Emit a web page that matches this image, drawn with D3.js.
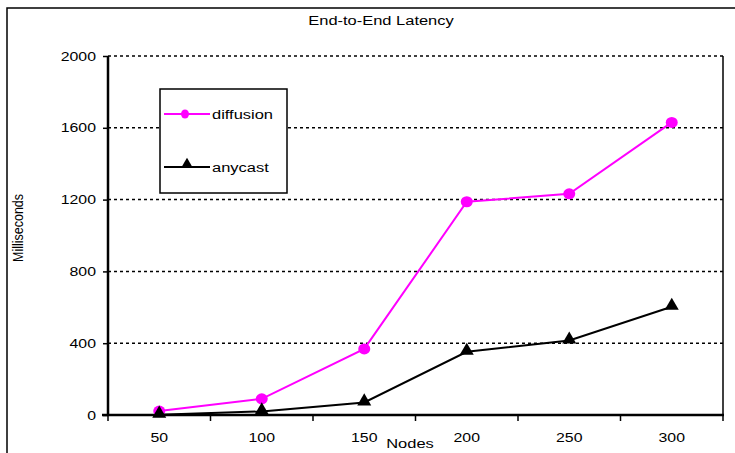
<!DOCTYPE html>
<html>
<head>
<meta charset="utf-8">
<script src="https://cdn.jsdelivr.net/npm/d3@7"></script>
<style>
  html, body { margin: 0; padding: 0; background: #fff; }
  svg { display: block; font-family: "Liberation Sans", Arial, sans-serif; }
</style>
</head>
<body>
<svg id="chart" width="735" height="453"></svg>
<script>
// Latency measurements per network size
const nodes = ["50", "100", "150", "200", "250", "300"];
const diffusion = [22, 90, 368, 1188, 1232, 1630];
const anycast = [2, 20, 70, 352, 415, 603];
const yTicks = [0, 400, 800, 1200, 1600, 2000];

const svg = d3.select("#chart");
const margin = { left: 108, right: 723, top: 56, bottom: 415 };
const SX = 1.22; // wide lettering

const x = d3.scaleBand().domain(nodes).range([margin.left, margin.right]);
const y = d3.scaleLinear().domain([0, 2000]).range([margin.bottom, margin.top]);

// Text helper: places a label and widens its glyphs horizontally
function label(px, py, str, size, anchor = "middle", rot = 0) {
  return svg.append("text")
    .attr("transform", `translate(${px},${py}) scale(${SX},1)` + (rot ? ` rotate(${rot})` : ""))
    .attr("text-anchor", anchor)
    .attr("font-size", size)
    .text(str);
}

// Outer chart frame (continues past the right and bottom edges)
svg.append("path")
  .attr("d", "M7,460 L7,8 L740,8")
  .attr("fill", "none").attr("stroke", "#000").attr("stroke-width", 1.5);

// Title
label(381, 25, "End-to-End Latency", 13.5);

// Dashed gridlines
svg.append("g").selectAll("line")
  .data(yTicks.filter(d => d > 0))
  .join("line")
  .attr("x1", margin.left).attr("x2", margin.right)
  .attr("y1", d => y(d)).attr("y2", d => y(d))
  .attr("stroke", "#000").attr("stroke-width", 1.5)
  .attr("stroke-dasharray", "3,3");

// Right border of plot area
svg.append("line")
  .attr("x1", margin.right).attr("x2", margin.right)
  .attr("y1", margin.top).attr("y2", margin.bottom)
  .attr("stroke", "#000").attr("stroke-width", 1.5);

// Y axis
const yAxis = svg.append("g")
  .attr("transform", `translate(${margin.left},0)`)
  .call(d3.axisLeft(y).tickValues(yTicks).tickFormat(d3.format("d")).tickSize(5).tickPadding(0));
yAxis.select(".domain").attr("stroke-width", 2.5).attr("d", `M0,${margin.top}V${margin.bottom}`);
yAxis.selectAll(".tick line").attr("stroke-width", 1.5);
yAxis.selectAll(".tick text")
  .attr("x", null)
  .attr("transform", `translate(-12,0) scale(${SX},1)`)
  .attr("font-size", 13).attr("fill", "#000")
  .attr("font-family", "Liberation Sans, Arial, sans-serif");

// X axis: ticks sit on category boundaries
const xAxis = svg.append("g")
  .attr("transform", `translate(0,${margin.bottom})`);
xAxis.append("line")
  .attr("x1", margin.left - 6).attr("x2", margin.right + 1)
  .attr("stroke", "#000").attr("stroke-width", 2.5);
const bounds = nodes.map(d => x(d)).concat([margin.right]);
xAxis.selectAll("line.tk").data(bounds).join("line")
  .attr("class", "tk")
  .attr("x1", d => d).attr("x2", d => d)
  .attr("y1", 0).attr("y2", 6)
  .attr("stroke", "#000").attr("stroke-width", 1.5);
xAxis.selectAll("text").data(nodes).join("text")
  .attr("transform", d => `translate(${x(d) + x.bandwidth() / 2},27) scale(${SX},1)`)
  .attr("text-anchor", "middle")
  .attr("font-size", 13)
  .text(d => d);

// Axis titles
label(410, 448, "Nodes", 13.5);
label(23, 228, "Milliseconds", 12.5, "middle", -90);

const cx = d => x(d) + x.bandwidth() / 2;
const line = d3.line().x((d, i) => cx(nodes[i])).y(d => y(d));

// Diffusion series
svg.append("path").datum(diffusion)
  .attr("d", line).attr("fill", "none")
  .attr("stroke", "#ff00ff").attr("stroke-width", 2);
svg.append("g").selectAll("ellipse").data(diffusion).join("ellipse")
  .attr("cx", (d, i) => cx(nodes[i])).attr("cy", d => y(d))
  .attr("rx", 6).attr("ry", 5.5)
  .attr("fill", "#ff00ff");

// Anycast series
const tri = d3.symbol().type(d3.symbolTriangle).size(85);
svg.append("path").datum(anycast)
  .attr("d", line).attr("fill", "none")
  .attr("stroke", "#000").attr("stroke-width", 2);
svg.append("g").selectAll("path").data(anycast).join("path")
  .attr("d", tri)
  .attr("transform", (d, i) => `translate(${cx(nodes[i])},${y(d) - 1})`)
  .attr("fill", "#000");

// Legend
const lg = svg.append("g");
lg.append("rect")
  .attr("x", 160).attr("y", 89).attr("width", 127).attr("height", 104)
  .attr("fill", "#fff").attr("stroke", "#000").attr("stroke-width", 1.5);
lg.append("line").attr("x1", 164).attr("x2", 210).attr("y1", 114).attr("y2", 114)
  .attr("stroke", "#ff00ff").attr("stroke-width", 2);
lg.append("ellipse").attr("cx", 185).attr("cy", 114).attr("rx", 4).attr("ry", 4.5)
  .attr("fill", "#ff00ff");
lg.append("path").attr("d", d3.symbol().type(d3.symbolTriangle).size(50))
  .attr("transform", "translate(187,164)").attr("fill", "#000");
lg.append("line").attr("x1", 164).attr("x2", 210).attr("y1", 167).attr("y2", 167)
  .attr("stroke", "#000").attr("stroke-width", 2);
label(212, 119, "diffusion", 13.5, "start");
label(212, 172, "anycast", 13.5, "start");
</script>
</body>
</html>
